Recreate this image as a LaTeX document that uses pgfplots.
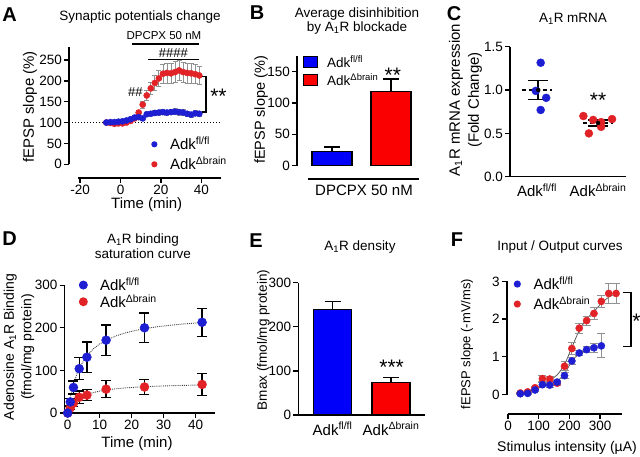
\documentclass[border=0pt]{standalone}
\usepackage{fontspec}
\setmainfont{Liberation Sans}
\usepackage{pgfplots}
\pgfplotsset{compat=1.18}
\usepackage{pgfplotstable}

\definecolor{dotblue}{RGB}{30,30,210}
\definecolor{dotred}{RGB}{225,35,40}
\definecolor{barblue}{RGB}{0,0,250}
\definecolor{barred}{RGB}{250,0,0}
\definecolor{errgray}{RGB}{145,145,145}

\newcommand{\tickf}{\fontsize{13.5}{16}\selectfont}
\newcommand{\labf}{\fontsize{15}{17.5}\selectfont}
\newcommand{\titf}{\fontsize{13.5}{14.5}\selectfont}
\newcommand{\legf}{\fontsize{15}{18}\selectfont}
\newcommand{\letf}{\fontsize{20}{24}\selectfont\bfseries}
\newcommand{\starf}{\fontsize{21}{24}\selectfont}
\newcommand{\fl}{Adk\textsuperscript{fl/fl}}
\newcommand{\db}{Adk\textsuperscript{Δbrain}}
\newcommand{\Aone}{A\textsubscript{1}R}

\pgfplotsset{
  panel/.style={
    scale only axis, anchor=south west, clip=false,
    axis x line*=bottom, axis y line*=left,
    axis line style={black, line width=1.4pt},
    tick style={black, line width=1.3pt},
    major tick length=5pt, tick align=outside,
    tick label style={font=\tickf, inner sep=2pt},
    /pgf/number format/assume math mode=true,
    legend cell align=left,
    legend style={draw=none, fill=none, inner sep=0pt, outer sep=0pt, font=\legf,
      nodes={inner sep=0pt, text height=12pt, text depth=1pt}},
  },
  detached/.style={axis line style={draw=none}},
  dotimg/.style n args={2}{legend image code/.code={
      \path[draw=none, fill=none] (-5pt,-5pt) rectangle (5pt,5pt);
      \fill[#1, draw=none] (0pt,0pt) circle (#2);}},
  boximg/.style={legend image code/.code={\draw[fill=#1, draw=black, line width=1.2pt] (-7pt,-5.5pt) rectangle (7pt,5.5pt);}},
  errs/.style n args={3}{only marks, mark=none, forget plot,
    error bars/.cd, y dir=both, y explicit, error bar style={#1, line width=#2},
    error mark options={rotate=90, mark size=#3, #1, line width=#2}},
}

% panel A: time course (min), fEPSP slope (%)
\pgfplotstableread{
t b be r re
-7 100 2 100 2
-5 101 2 99 2
-3 101 2 97 2
-1 102 2 98 2
1 103 2 98 2
3 105 3 100 3
5 108 3 104 3
7 112 4 110 4
9 113 5 124 5
11 110 5 143 8
13 120 5 165 12
15 121 5 182 15
17 123 5 195 18
19 124 6 206 20
21 125 6 217 22
23 124 6 219 24
25 125 6 218 25
27 126 7 221 25
29 125 7 225 25
31 124 7 221 24
33 121 6 219 24
35 119 6 218 24
37 122 6 216 23
39 121 6 213 22
}\dataA

% panel D: binding over time
\pgfplotstableread{
t b be r re
0 0 0 0 0
0.8 26 8 12 4
1.8 60 15 23 8
3.6 104 26 37 15
6 131 36 42 13
12 171 36 56 20
24 200 35 61 18
42 213 33 67 26
}\dataD

\pgfplotstableread{
t b r
0 0 0
1 42.7 14.4
2 72.3 24.0
3 94.0 30.9
4 110.6 36.0
6 134.3 43.2
8 150.4 48.0
10 162.1 51.4
12 170.9 54.0
15 180.8 56.8
18 188.0 58.9
21 193.5 60.5
24 197.9 61.7
28 202.5 63.0
32 206.0 64.0
36 208.9 64.8
40 211.2 65.5
42 212.3 65.7
}\fitD

% panel F: input/output
\pgfplotstableread{
x b be
40 0.02 0.02
64 0.03 0.02
88 0.12 0.03
112 0.26 0.05
136 0.25 0.05
160 0.33 0.05
184 0.50 0.08
208 0.89 0.08
232 1.10 0.07
256 1.19 0.08
280 1.24 0.12
304 1.29 0.32
}\dataFb

\pgfplotstableread{
x r re
40 0.04 0.02
64 0.07 0.03
88 0.18 0.04
112 0.42 0.08
136 0.41 0.06
160 0.30 0.06
184 0.75 0.12
208 1.22 0.15
232 1.76 0.13
256 1.96 0.12
280 2.15 0.16
304 2.47 0.16
328 2.68 0.27
352 2.68 0.27
}\dataFr

\begin{document}
\begin{tikzpicture}[x=1pt,y=1pt]
\useasboundingbox (0,0) rectangle (640,456);

% ---------------- A
\begin{axis}[panel, detached, at={(69pt,278pt)}, width=152.5pt, height=130.5pt,
  xmin=-25.5, xmax=50, ymin=-33, ymax=280,
  xtick={-20,0,20,40}, ytick={0,50,100,150,200,250},
  legend style={at={(0.527,0.308)}, anchor=north west, column sep=10.7pt, row sep=7pt}]
\draw[line width=1.4pt] (axis cs:-25.5,0) -- (axis cs:-25.5,280);
\draw[line width=1.4pt] (axis cs:-21,-33) -- (axis cs:50,-33);
\addplot[black, dotted, line width=1pt, forget plot] coordinates {(-25.5,100) (50,100)};
\addplot[errs={errgray}{0.8pt}{2.5pt}] table[x=t, y=r, y error=re] {\dataA};
\addplot[only marks, mark=*, mark size=3.1pt, color=dotred, forget plot] table[x=t, y=r] {\dataA};
\addplot[errs={errgray}{0.8pt}{2.5pt}] table[x=t, y=b, y error=be] {\dataA};
\addplot[only marks, mark=*, mark size=3.1pt, color=dotblue, forget plot] table[x=t, y=b] {\dataA};
\addlegendimage{dotimg={dotblue}{3.1pt}}
\addlegendentry{\fl}
\addlegendimage{dotimg={dotred}{3.1pt}}
\addlegendentry{\db}
\draw[line width=1.2pt] (axis cs:5.5,288.5) -- (axis cs:39,288.5);
\node[font=\fontsize{11.5}{13}\selectfont] at (axis cs:21.5,308) {DPCPX 50 nM};
\draw[line width=1.2pt] (axis cs:13.5,251.8) -- (axis cs:39,251.8);
\node[font=\fontsize{13}{15}\selectfont] at (axis cs:26.2,267) {\#\#\#\#};
\node[font=\fontsize{13}{15}\selectfont] at (axis cs:7.4,174) {\#\#};
\draw[line width=1.3pt] (axis cs:40.4,210) -- (axis cs:42.4,210) -- (axis cs:42.4,125) -- (axis cs:40.4,125);
\node[font=\starf] at (axis cs:48.5,162) {**};
\end{axis}

% ---------------- B
\begin{axis}[panel, detached, at={(297pt,277pt)}, width=123pt, height=123.2pt,
  xmin=-0.593, xmax=1.49, ymin=-21.2, ymax=175,
  xtick=\empty, ytick={0,50,100,150},
  legend style={at={(0.049,1.002)}, anchor=north west, column sep=9pt, row sep=5pt,
    font=\fontsize{13.5}{16}\selectfont}]
\draw[line width=1.4pt] (axis cs:-0.593,0) -- (axis cs:-0.593,175);
\draw[line width=1.4pt] (axis cs:-0.407,-21.2) -- (axis cs:1.475,-21.2);
\addplot[ybar, bar width=0.68, bar shift=0pt, fill=barblue, draw=black, line width=1.3pt, forget plot,
  error bars/.cd, y dir=plus, y explicit, error bar style={black, line width=1.3pt},
  error mark options={rotate=90, mark size=8pt, black, line width=1.3pt}]
  coordinates {(0,23) +- (0,7)};
\addplot[ybar, bar width=0.68, bar shift=0pt, fill=barred, draw=black, line width=1.3pt, forget plot,
  error bars/.cd, y dir=plus, y explicit, error bar style={black, line width=1.3pt},
  error mark options={rotate=90, mark size=8pt, black, line width=1.3pt}]
  coordinates {(1,118) +- (0,20)};
\addlegendimage{boximg=barblue}
\addlegendentry{\fl}
\addlegendimage{boximg=barred}
\addlegendentry{\db}
\node[font=\starf] at (axis cs:1.03,144.7) {**};
\end{axis}

% ---------------- C
\begin{axis}[panel, at={(510pt,279.3pt)}, width=116pt, height=130pt,
  xmin=-0.443, xmax=1.459, ymin=0, ymax=1.5,
  xtick={0,1}, xticklabels={\fl,\db}, xtick style={draw=none},
  x tick label style={font=\labf},
  ytick={0,0.5,1,1.5},
  yticklabel style={/pgf/number format/.cd, fixed, fixed zerofill, precision=1}]
\addplot[only marks, mark=*, mark size=4pt, color=dotblue]
  coordinates {(0.06,1.315) (-0.02,0.99) (0.15,0.91) (0.06,0.77)};
\addplot[only marks, mark=*, mark size=4pt, color=dotred]
  coordinates {(0.76,0.70) (0.92,0.655) (1.05,0.63) (1.23,0.665) (0.85,0.50) (1.05,0.575)};
\addplot[black, line width=1.3pt, dash pattern=on 4pt off 3pt] coordinates {(-0.25,1.0) (0.25,1.0)};
\addplot[black, line width=1.3pt, dash pattern=on 4pt off 3pt] coordinates {(0.75,0.62) (1.25,0.62)};
\addplot[errs={black}{1.5pt}{10pt}] coordinates {(0.02,1.0) +- (0,0.11)};
\addplot[errs={black}{1.5pt}{10pt}] coordinates {(1.0,0.62) +- (0,0.035)};
\node[font=\starf] at (axis cs:1.0,0.887) {**};
\end{axis}

% ---------------- D
\begin{axis}[panel, at={(64.5pt,43pt)}, width=150.4pt, height=127.8pt,
  xmin=-1, xmax=46, ymin=0, ymax=300,
  xtick={0,10,20,30,40}, ytick={0,100,200,300},
  legend style={at={(0.092,1.052)}, anchor=north west, column sep=11.7pt, row sep=3.7pt}]
\addplot[black!75, densely dotted, line width=0.9pt, forget plot] table[x=t, y=b] {\fitD};
\addplot[black!75, densely dotted, line width=0.9pt, forget plot] table[x=t, y=r] {\fitD};
\addplot[errs={black}{1.4pt}{5pt}] table[x=t, y=r, y error=re] {\dataD};
\addplot[errs={black}{1.4pt}{5pt}] table[x=t, y=b, y error=be] {\dataD};
\addplot[only marks, mark=*, mark size=4.5pt, color=dotred, forget plot] table[x=t, y=r] {\dataD};
\addplot[only marks, mark=*, mark size=4.5pt, color=dotblue, forget plot] table[x=t, y=b] {\dataD};
\addlegendimage{dotimg={dotblue}{4.5pt}}
\addlegendentry{\fl}
\addlegendimage{dotimg={dotred}{4.5pt}}
\addlegendentry{\db}
\end{axis}

% ---------------- E
\begin{axis}[panel, at={(298.3pt,41pt)}, width=126.7pt, height=132.3pt,
  xmin=-0.585, xmax=1.58, ymin=0, ymax=300,
  xtick={0,1}, xticklabels={\fl,\db}, xtick style={draw=none},
  x tick label style={font=\labf},
  ytick={0,100,200,300}]
\addplot[ybar, bar width=0.65, bar shift=0pt, fill=barblue, draw=black, line width=1.3pt,
  error bars/.cd, y dir=plus, y explicit, error bar style={black, line width=1.3pt},
  error mark options={rotate=90, mark size=8pt, black, line width=1.3pt}]
  coordinates {(0,240) +- (0,17)};
\addplot[ybar, bar width=0.65, bar shift=0pt, fill=barred, draw=black, line width=1.3pt,
  error bars/.cd, y dir=plus, y explicit, error bar style={black, line width=1.3pt},
  error mark options={rotate=90, mark size=8pt, black, line width=1.3pt}]
  coordinates {(1,73) +- (0,12)};
\node[font=\starf] at (axis cs:1.01,108.6) {***};
\end{axis}

% ---------------- F
\begin{axis}[panel, detached, at={(506.8pt,42pt)}, width=114.8pt, height=132.6pt,
  xmin=-4, xmax=370, ymin=-0.517, ymax=3,
  xtick={0,100,200,300}, ytick={0,1,2,3},
  legend style={at={(0.048,1.029)}, anchor=north west, column sep=11.3pt, row sep=7pt}]
\draw[line width=1.4pt] (axis cs:-4,0) -- (axis cs:-4,3);
\draw[line width=1.4pt] (axis cs:0,-0.517) -- (axis cs:370,-0.517);
\addplot[black!70, line width=0.7pt, smooth, forget plot] coordinates {
  (40,0.03) (64,0.08) (88,0.16) (112,0.27) (136,0.38) (160,0.52) (184,0.80) (208,1.25)
  (232,1.70) (256,2.00) (280,2.20) (304,2.42) (328,2.58) (352,2.68)};
\addplot[black!70, line width=0.7pt, smooth, forget plot] coordinates {
  (40,0.02) (64,0.05) (88,0.12) (112,0.22) (136,0.28) (160,0.36) (184,0.55) (208,0.88)
  (232,1.08) (256,1.18) (280,1.24) (304,1.28)};
\addplot[errs={errgray}{0.9pt}{4pt}] table[x=x, y=r, y error=re] {\dataFr};
\addplot[errs={errgray}{0.9pt}{4pt}] table[x=x, y=b, y error=be] {\dataFb};
\addplot[only marks, mark=*, mark size=3.6pt, color=dotred, forget plot] table[x=x, y=r] {\dataFr};
\addplot[only marks, mark=*, mark size=3.6pt, color=dotblue, forget plot] table[x=x, y=b] {\dataFb};
\addlegendimage{dotimg={dotblue}{3.6pt}}
\addlegendentry{\fl}
\addlegendimage{dotimg={dotred}{3.6pt}}
\addlegendentry{\db}
\draw[line width=1.3pt] (axis cs:374,2.70) -- (axis cs:401,2.70) -- (axis cs:401,1.27) -- (axis cs:374,1.27);
\node[font=\starf] at (axis cs:418,1.93) {*};
\end{axis}

% ---------------- texts
\node[font=\letf] at (9.5,441.5) {A};
\node[font=\titf] at (140,439) {Synaptic potentials change};
\node[font=\labf, rotate=90] at (30,349) {fEPSP slope (\%)};
\node[font=\labf] at (146.7,251) {Time (min)};

\node[font=\letf] at (257,443.5) {B};
\node[font=\titf, align=center] at (357,435) {Average disinhibition\\by \Aone{} blockade};
\node[font=\fontsize{14.5}{17}\selectfont, rotate=90] at (261,346) {fEPSP slope (\%)};
\node[font=\labf] at (364,266) {DPCPX 50 nM};

\node[font=\letf] at (454,442) {C};
\node[font=\titf] at (573,437) {\Aone{} mRNA};
\node[font=\fontsize{15}{19}\selectfont, rotate=90, align=center] at (465.5,356) {\Aone{} mRNA expression\\(Fold Change)};

\node[font=\letf] at (9.5,217) {D};
\node[font=\titf, align=center] at (143,210) {\Aone{} binding\\saturation curve};
\node[font=\fontsize{14}{17.5}\selectfont, rotate=90, align=center] at (19,109) {Adenosine \Aone{} Binding\\(fmol/mg protein)};
\node[font=\labf] at (137,12) {Time (min)};

\node[font=\letf] at (256,215.5) {E};
\node[font=\titf] at (360,209) {\Aone{} density};
\node[font=\fontsize{13.5}{16}\selectfont, rotate=90] at (263.5,116) {Bmax (fmol/mg protein)};

\node[font=\letf] at (457,216) {F};
\node[font=\titf] at (560,209.3) {Input / Output curves};
\node[font=\fontsize{13}{15}\selectfont, rotate=90] at (467,112) {fEPSP slope (-mV/ms)};
\node[font=\fontsize{14}{16}\selectfont] at (567,8) {Stimulus intensity (µA)};
\end{tikzpicture}
\end{document}
